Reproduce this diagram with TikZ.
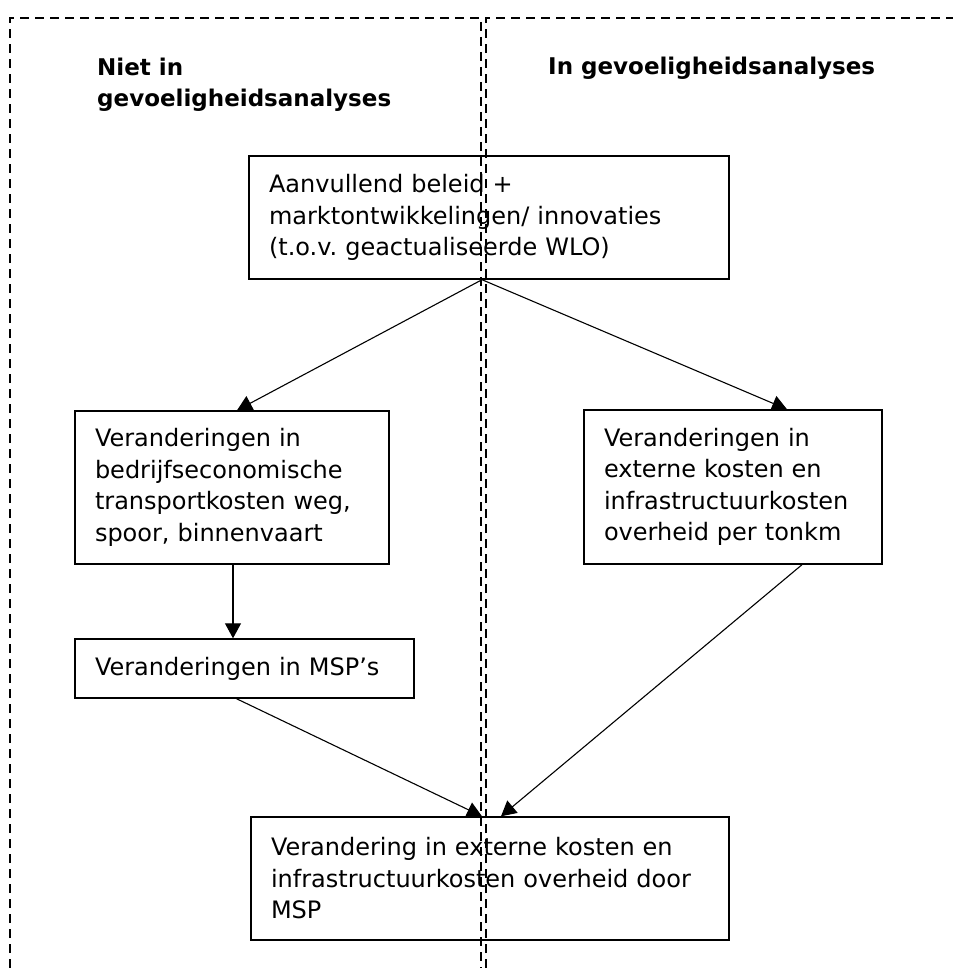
\documentclass[tikz,border=0pt]{standalone}
\usepackage{fontspec}
\setmainfont{DejaVu Sans}
\usetikzlibrary{arrows.meta}
\frenchspacing

\begin{document}
\begin{tikzpicture}[x=1pt, y=-1pt,
  box/.style={draw, line width=1.4pt, inner xsep=20pt, inner ysep=0pt, align=left,
    font=\fontsize{24}{31.5}\selectfont},
  frame/.style={line width=2.6pt, dash pattern=on 9pt off 6pt},
  arr/.style={line width=1.1pt, -{Triangle[length=15pt, width=16pt]}},
  head/.style={font=\bfseries\fontsize{23}{31}\selectfont, anchor=base west, inner sep=0pt, align=left}]
  \useasboundingbox (0,0) rectangle (953,968);
  % headings
  \node[head] (niet) at (97,107) {Niet in\\gevoeligheidsanalyses};
  \node[head] (wel) at (548,75) {In gevoeligheidsanalyses};
  % boxes
  \node[box, text width=440pt, minimum height=123pt] (top) at (489,217.5)
    {Aanvullend beleid +\\marktontwikkelingen/ innovaties\\(t.o.v. geactualiseerde WLO)};
  \node[box, text width=274pt, minimum height=153pt] (lft) at (232,487.5)
    {Veranderingen in\\bedrijfseconomische\\transportkosten weg,\\spoor, binnenvaart};
  \node[box, text width=258pt, minimum height=154pt] (rgt) at (733,487)
    {Veranderingen in\\externe kosten en\\infrastructuurkosten\\overheid per tonkm};
  \node[box, text width=299pt, minimum height=59pt] (msp) at (244.5,668.5)
    {Veranderingen in MSP’s};
  \node[box, text width=438pt, minimum height=123pt] (bot) at (490,878.5)
    {Verandering in externe kosten en\\infrastructuurkosten overheid door\\MSP};
  % arrows
  \draw[arr] ([xshift=-7pt]top.south) -- ([xshift=5pt]lft.north);
  \draw[arr] ([xshift=-7pt]top.south) -- ([xshift=54pt]rgt.north);
  \draw[arr] ([xshift=1pt]lft.south) -- ([xshift=1pt]lft.south |- msp.north);
  \draw[arr] ([xshift=-8pt]msp.south) -- ([xshift=-8pt]bot.north);
  \draw[arr] ([xshift=69pt]rgt.south) -- ([xshift=11pt]bot.north);
  % dashed frames
  \draw[frame] (10,968) -- (10,18) -- (481,18) -- (481,968);
  \draw[frame] (486,968) -- (486,18) -- (953,18);
\end{tikzpicture}
\end{document}
